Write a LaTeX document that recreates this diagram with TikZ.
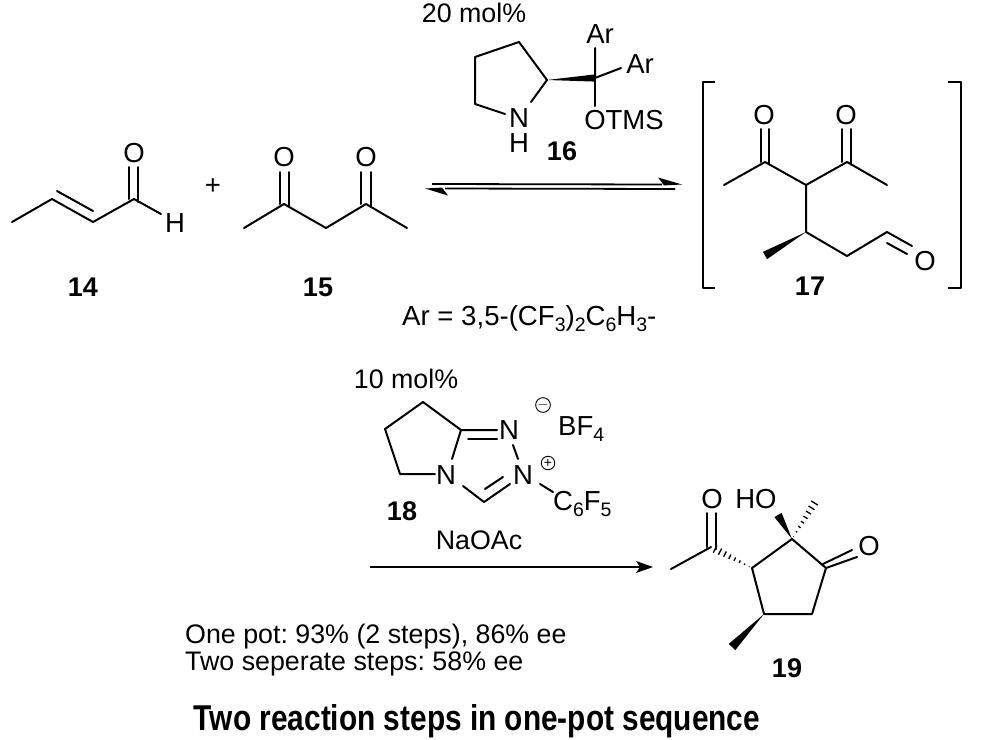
\documentclass[tikz,border=0pt]{standalone}
\usepackage{fontspec}
\setmainfont{Liberation Sans}
\usetikzlibrary{calc}
\frenchspacing
\newcommand{\wedgebond}[3]{\fill (#1) -- ($(#2)!#3!90:(#1)$) -- ($(#2)!#3!-90:(#1)$) -- cycle;}
\newcommand{\hashbond}[3]{%
  \foreach \t in {0.06,0.18,...,1.0}{%
    \coordinate (hp) at ($(#1)!\t!(#2)$);
    \draw[line width=1.3pt] ($(hp)!\t*#3!90:(#2)$) -- ($(hp)!\t*#3!-90:(#2)$);
  }}
\newcommand{\subs}[1]{\raisebox{-0.25em}{\fontsize{19.5}{19.5}\selectfont #1}}
\tikzset{
  atom/.style={inner sep=0pt,font=\fontsize{27.5}{27.5}\selectfont},
  lab/.style={inner sep=0pt,font=\fontsize{27}{27}\selectfont\bfseries},
  txt/.style={inner sep=0pt,font=\fontsize{26.8}{26.8}\selectfont},
  bond/.style={line width=2pt,line cap=round,line join=round},
  charge/.style={circle,draw,line width=0.9pt,minimum size=13.5pt,inner sep=0pt,font=\fontsize{14}{14}\selectfont},
  eqline/.style={line width=1.8pt}
}
\begin{document}
\begin{tikzpicture}[x=1pt,y=-1pt]
\useasboundingbox (0,0) rectangle (981,739);
% ---- 14
\coordinate (a1) at (12,222);\coordinate (a2) at (52,199);\coordinate (a3) at (93,222);\coordinate (a4) at (134,199);
\node[atom] (o14) at (134,153) {O};
\node[atom] (h14) at (175,223) {H};
\draw[bond] (a1)--(a2)--(a3)--(a4)--(161,214);
\draw[bond] (57,191)--(93,211);
\draw[bond] (129,199)--(129,167) (138,202)--(138,167);
\node[atom] (plus) at (213,187) {+};
\node[lab] (n14) at (83,287) {14};
% ---- 15
\coordinate (b1) at (244,228);\coordinate (b2) at (284,204);\coordinate (b3) at (326,228);\coordinate (b4) at (366,204);\coordinate (b5) at (407,228);
\node[atom] (o15a) at (284,157) {O};
\node[atom] (o15b) at (366,157) {O};
\draw[bond] (b1)--(b2)--(b3)--(b4)--(b5);
\draw[bond] (280,204)--(280,172) (289,206)--(289,172) (361,204)--(361,172) (371,206)--(371,172);
\node[lab] (n15) at (318,287) {15};
% ---- 16
\node[txt,anchor=base] (m20) at (474,22) {20 mol\%};
\coordinate (c1) at (519,42);\coordinate (c2) at (475,57);\coordinate (c3) at (475,104);\coordinate (c4) at (547,80);\coordinate (c5) at (595,78);
\node[atom] (n16) at (519,118) {N};
\node[atom] (h16) at (519,143) {H};
\node[atom] (ar1) at (600,34) {Ar};
\node[atom] (ar2) at (640,64) {Ar};
\node[atom] (otms) at (624,120) {OTMS};
\draw[bond] (505,114)--(c3)--(c2)--(c1)--(c4)--(531,102);
\wedgebond{c4}{c5}{3.6pt}
\draw[bond] (595,48)--(c5)--(621,68);
\draw[bond] (c5)--(595,106);
\node[lab] (l16) at (562,151) {16};
% equilibrium arrows
\coordinate (e1) at (432,184);\coordinate (e2) at (682,184.5);\coordinate (e3) at (675,189);\coordinate (e4) at (425,188.5);
\draw[eqline] (e1)--(662,184.5);
\fill (e2)--(658,177.5)--(664,185.4)--cycle;
\draw[eqline] (e3)--(445,188.5);
\fill (e4)--(448,195.5)--(442,187.6)--cycle;
% ---- 17
\draw[bond,line cap=butt] (715,82)--(703,82)--(703,288)--(715,288);
\draw[bond,line cap=butt] (948,82)--(961,82)--(961,288)--(948,288);
\coordinate (d1) at (724,185);\coordinate (d2) at (765,162);\coordinate (d3) at (806,185);\coordinate (d4) at (847,162);\coordinate (d5) at (887,185);
\coordinate (d6) at (806,232);\coordinate (d7) at (765,255.5);\coordinate (d8) at (847,256);\coordinate (d9) at (887,232);
\node[atom] (o17a) at (764,115) {O};
\node[atom] (o17b) at (846,115) {O};
\node[atom] (o17c) at (925,261) {O};
\draw[bond] (d1)--(d2)--(d3)--(d4)--(d5);
\draw[bond] (d3)--(d6)--(d8)--(d9)--(912,246);
\draw[bond] (887,243)--(907,254);
\draw[bond] (761,162)--(761,129) (769,164)--(769,129) (842,162)--(842,129) (851,164)--(851,129);
\wedgebond{d6}{d7}{4.2pt}
\node[lab] (l17) at (810,286) {17};
\node[txt,anchor=base west,font=\fontsize{27.6}{27.6}\selectfont] (artxt) at (402,325) {Ar = 3,5-(CF\subs{3})\subs{2}C\subs{6}H\subs{3}-};
% ---- 18
\node[txt,anchor=base] (m10) at (406,388) {10 mol\%};
\coordinate (f1) at (423,402);\coordinate (f2) at (385,429);\coordinate (f3) at (400,474);\coordinate (f4) at (461,430);\coordinate (f5) at (484,502);
\node[atom] (n18a) at (446,475) {N};
\node[atom] (n18b) at (509,430) {N};
\node[atom] (n18c) at (523,475) {N};
\draw[bond] (f4)--(f1)--(f2)--(f3)--(435,474);
\draw[bond] (452,459)--(f4)--(497,430);
\draw[bond] (468,439)--(497,439);
\draw[bond] (513,445)--(518,459);
\draw[bond] (463,486)--(f5)--(510,484);
\draw[bond] (485,489)--(503,477);
\draw[bond] (540,484)--(553,492);
\node[anchor=base west,atom] (c6f5) at (553,510) {C\subs{6}F\subs{5}};
\node[anchor=base west,atom] (bf4) at (558,435) {BF\subs{4}};
\node[charge] (minus) at (543,405) {$-$};
\node[charge] (pluss) at (548,463) {+};
\node[lab] (l18) at (402,511) {18};
\node[txt,anchor=base] (naoac) at (479,549) {NaOAc};
\coordinate (g1) at (370,567);\coordinate (g2) at (653,567);
\draw[line width=1.6pt] (g1)--(640,567);
\fill (g2)--(636,561)--(640,567)--(636,573)--cycle;
% ---- 19
\coordinate (k1) at (752,568);\coordinate (k2) at (792,539);\coordinate (k3) at (826,568);\coordinate (k4) at (812,614);\coordinate (k5) at (764,614);
\coordinate (k6) at (711,547);\coordinate (k7) at (671,569);\coordinate (k8) at (778,515);\coordinate (k9) at (817,499);\coordinate (k10) at (732,647);
\node[atom] (o19a) at (712,499) {O};
\node[atom] (ho) at (756,499) {HO};
\node[atom] (o19b) at (869,546) {O};
\draw[bond] (k1)--(k2)--(k3)--(k4)--(k5)--cycle;
\draw[bond] (k7)--(k6);
\draw[bond] (707,547)--(707,513) (716,549)--(716,513);
\draw[bond] (k3)--(857,557) (823,564)--(852,550);
\wedgebond{k2}{k8}{4.2pt}
\wedgebond{k5}{k10}{4.5pt}
\hashbond{k2}{k9}{4.5pt}
\hashbond{k1}{k6}{4.5pt}
\node[lab] (l19) at (787,668) {19};
% ---- text
\node[anchor=base west,txt] (t1) at (185,643) {One pot: 93\% (2 steps), 86\% ee};
\node[anchor=base west,txt] (t2) at (185,670) {Two seperate steps: 58\% ee};
\node[inner sep=0pt] (title) at (477,721) {\resizebox{566pt}{26pt}{\fontsize{30}{30}\selectfont\bfseries Two reaction steps in one-pot sequence}};
\end{tikzpicture}
\end{document}
